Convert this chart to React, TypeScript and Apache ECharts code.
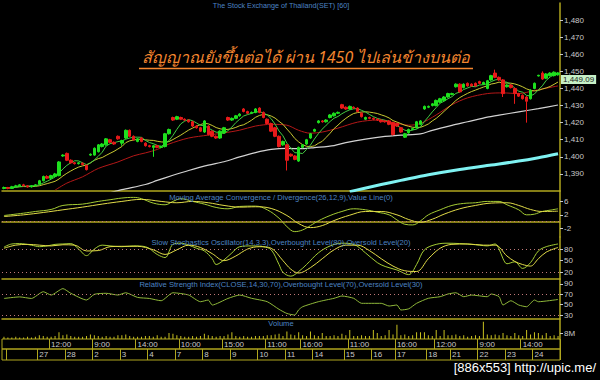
import React, { useEffect, useRef } from 'react';
import * as echarts from 'echarts';

// ---- time axis ----
const days = ['', '27', '28', '2', '3', '4', '7', '8', '9', '10', '11', '14', '15', '16', '17', '18', '21', '22', '23', '24'];
const dayStart = [1, 9, 16, 23, 30, 37, 44, 51, 58, 65, 72, 79, 87, 94, 100, 108, 114, 121, 128, 135];
const hourLabels = ['12:00', '9:00', '14:00', '10:00', '15:00', '11:00', '16:00', '11:00', '16:00', '12:00', '9:00', '14:00'];
const hourIdx = [12, 23, 34, 45, 56, 67, 76, 88, 100, 110, 121, 132];

// ---- hourly candles [open, close, low, high] ----
const candles: number[][] = [
  [1381.5, 1382, 1381, 1382.6], [1382, 1381.5, 1381, 1382.4], [1381.5, 1382.5, 1381.2, 1383], [1382.5, 1383, 1382.2, 1383.6],
  [1383, 1383.6, 1382.6, 1384], [1383.6, 1383, 1382.6, 1384.2], [1383, 1382.4, 1382, 1383.4], [1382.4, 1383, 1382, 1383.5],
  [1383, 1383.6, 1382.7, 1384], [1384, 1386, 1383.6, 1386.5], [1386, 1388.5, 1385.6, 1389], [1388.5, 1387.5, 1387, 1389.2],
  [1387.5, 1389, 1387, 1389.5], [1388.5, 1390, 1388, 1390.6], [1389, 1397, 1388.6, 1397.5], [1400.5, 1401, 1400, 1401.5],
  [1402, 1398, 1397.5, 1402.5], [1398, 1396.5, 1396, 1398.5], [1396.5, 1396, 1395.5, 1397], [1396, 1396.5, 1395.5, 1397],
  [1396.2, 1395.5, 1395, 1396.8], [1395, 1392.5, 1392, 1395.5], [1401, 1401.5, 1400.5, 1402], [1401, 1405, 1400.6, 1405.5],
  [1403, 1407, 1402.5, 1407.5], [1406, 1407.5, 1405.5, 1408], [1407, 1410.5, 1406.5, 1411], [1410, 1408.5, 1408, 1410.5],
  [1408.5, 1407.5, 1407, 1409], [1412, 1410.5, 1410, 1412.5], [1408, 1409.5, 1406.5, 1410], [1411, 1415.5, 1410.5, 1416],
  [1415.5, 1412, 1411.5, 1416], [1412, 1410, 1409.5, 1412.5], [1409, 1410.5, 1408.5, 1411], [1411, 1409, 1408.5, 1411.5],
  [1408, 1406.5, 1406, 1408.5], [1406.5, 1406, 1405.5, 1407], [1405.5, 1406.5, 1400, 1407], [1406.5, 1405.5, 1405, 1407],
  [1405.5, 1406, 1405, 1406.5], [1406, 1413.5, 1405.5, 1414], [1413.5, 1416, 1413, 1416.5], [1423, 1421.5, 1421, 1423.5],
  [1422, 1423.5, 1421.5, 1424], [1423, 1422, 1421.5, 1423.5], [1422, 1421.5, 1421, 1422.5], [1421.5, 1420.5, 1420, 1422],
  [1420.5, 1418, 1417.5, 1421], [1418, 1417, 1416.5, 1418.5], [1417, 1415, 1414.5, 1417.5], [1414.5, 1421, 1414, 1421.5],
  [1418, 1413, 1412.5, 1418.5], [1415, 1412, 1411.5, 1415.5], [1412, 1411, 1410.5, 1412.5], [1411, 1415, 1410.5, 1415.5],
  [1414, 1417, 1413.5, 1417.5], [1423, 1421.5, 1421, 1423.5], [1421.5, 1422.5, 1421, 1423], [1422.5, 1424, 1422, 1424.5],
  [1424, 1425, 1423.5, 1425.5], [1428, 1426.5, 1426, 1428.5], [1426.5, 1425.5, 1425, 1427], [1425.5, 1426, 1425, 1426.5],
  [1426, 1428, 1425.5, 1428.5], [1428.5, 1426, 1425.5, 1429], [1426, 1423, 1422.5, 1426.5], [1422, 1419.5, 1419, 1422.5],
  [1419.5, 1415, 1414.5, 1420], [1417, 1412, 1411.5, 1417.5], [1412, 1406, 1405.5, 1412.5], [1407, 1409, 1406.5, 1409.5],
  [1407, 1398, 1392, 1407.5], [1401.5, 1400.5, 1400, 1402], [1400.5, 1398.5, 1398, 1401], [1397.5, 1405.5, 1397, 1406],
  [1405.5, 1407, 1405, 1407.5], [1407.5, 1410, 1407, 1410.5], [1411, 1413.5, 1410.5, 1414], [1415, 1416, 1414.5, 1416.5],
  [1420, 1421, 1419.5, 1421.5], [1421, 1420.5, 1420, 1421.5], [1420.5, 1421.5, 1420, 1422], [1423, 1424.5, 1422.5, 1425],
  [1424, 1425.5, 1423.5, 1426], [1425.5, 1426, 1425, 1426.5], [1430.5, 1428.5, 1428, 1431], [1429, 1428, 1427.5, 1429.5],
  [1428, 1429.5, 1427.5, 1430], [1429, 1428.5, 1428, 1429.5], [1428.5, 1426.5, 1426, 1429], [1425.5, 1423.5, 1423, 1426],
  [1422, 1423, 1421.5, 1423.5], [1423, 1422.5, 1422, 1423.5], [1422.5, 1422, 1421.5, 1423], [1422, 1421.5, 1421, 1422.5],
  [1421.5, 1420.5, 1420, 1422], [1421, 1420.5, 1420, 1421.5], [1421, 1419, 1418.5, 1421.5], [1420, 1413, 1412.5, 1420.5],
  [1419.5, 1418, 1417.5, 1420], [1417, 1414.5, 1414, 1417.5], [1411.5, 1413.5, 1411, 1414], [1414, 1416, 1413.5, 1416.5],
  [1416, 1416.5, 1415.5, 1417], [1417, 1420.5, 1416.5, 1421], [1419, 1421, 1418.5, 1421.5], [1428, 1429.5, 1427.5, 1430],
  [1429, 1429.5, 1428.5, 1430], [1430, 1431, 1429.5, 1431.5], [1430, 1433, 1429.5, 1433.5], [1432, 1434, 1431.5, 1434.5],
  [1433, 1435, 1432.5, 1435.5], [1435, 1437, 1434.5, 1437.5], [1436.5, 1437, 1436, 1437.5], [1441, 1442.5, 1440.5, 1443],
  [1442.5, 1438, 1437.5, 1443], [1440.5, 1442.5, 1440, 1443], [1443, 1441.5, 1441, 1443.5], [1442.5, 1441.5, 1441, 1443],
  [1443, 1441.5, 1441, 1443.5], [1444, 1443, 1442.5, 1444.5], [1442.5, 1443.5, 1442, 1444], [1440, 1444.5, 1439.5, 1445],
  [1445, 1447.5, 1444.5, 1448], [1449, 1446.5, 1446, 1451], [1446.5, 1445, 1444.5, 1447], [1445, 1437, 1435, 1445.5],
  [1441, 1442, 1440.5, 1442.5], [1442, 1440.5, 1440, 1442.5], [1440, 1437, 1431, 1440.5], [1437, 1435.5, 1435, 1437.5],
  [1436, 1434, 1433.5, 1436.5], [1435, 1432.5, 1420, 1435.5], [1434, 1439, 1433.5, 1439.5], [1440, 1443, 1439.5, 1443.5],
  [1447.3, 1447.7, 1447, 1448], [1449, 1445.5, 1445, 1450], [1446, 1448.5, 1445.5, 1449], [1447.5, 1449, 1447, 1449.5],
  [1447.5, 1449.5, 1447, 1450], [1448, 1449.09, 1447.5, 1449.6],
];

// ---- volume (millions) ----
const volumeM = [
  3, 2, 2, 3, 2, 2, 3, 2, 3,
  5, 4, 3, 3, 4, 9, 5,
  6, 4, 3, 3, 3, 4, 6,
  5, 4, 3, 4, 3, 3, 5,
  5, 6, 4, 3, 3, 3, 4,
  4, 3, 5, 3, 3, 8, 7,
  5, 4, 3, 3, 4, 3, 4,
  7, 5, 4, 3, 4, 4, 6,
  9, 4, 3, 4, 3, 3, 4,
  4, 4, 5, 5, 6, 7, 4,
  10, 6, 5, 9, 5, 4, 10,
  5, 4, 8, 4, 4, 5, 4,
  7, 5, 12, 4, 4, 5, 4,
  4, 12, 8, 4, 5, 12, 6,
  19, 5, 6, 4, 5, 9, 9,
  9, 5, 4, 12, 4, 12, 5,
  5, 6, 4, 5, 3, 4, 5,
  4, 23, 6, 5, 6, 5, 8,
  5, 4, 8, 5, 4, 12, 6,
  9, 8, 5, 8, 4, 5, 4,
];

// ---- long moving averages [barIndex, value] ----
const redMA = [[13, 1380.5], [16, 1384.6], [20, 1388.3], [24, 1393.2], [29, 1397], [33, 1400.6], [36, 1402.3], [39, 1404.3], [42, 1407.5], [47, 1411], [52, 1412.7], [56, 1414], [60, 1415.6], [64, 1418], [68, 1419], [72, 1418.5], [75, 1415.5], [78, 1413.8], [81, 1414.5], [85, 1416.8], [90, 1420.3], [95, 1421.5], [99, 1420], [103, 1418.5], [106, 1419.5], [110, 1424.5], [114, 1430.5], [118, 1434.5], [123, 1437], [127, 1437.4], [131, 1437], [135, 1438.8], [141, 1441.5]];
const whiteMA = [[27, 1379], [30, 1380.8], [36, 1383.8], [39, 1386.2], [43, 1389.2], [47, 1392], [52, 1395.1], [56, 1397.1], [60, 1400], [64, 1402.5], [68, 1404.3], [72, 1404.9], [76, 1404.8], [79, 1405.4], [84, 1406.6], [87, 1408.3], [92, 1410.4], [96, 1411.7], [101, 1412.7], [106, 1413.4], [109, 1415.5], [114, 1418.4], [118, 1420.5], [123, 1423.2], [126, 1424.4], [131, 1426.3], [136, 1428.2], [141, 1430.3]];
const cyanMA = [[88, 1379.6], [91, 1381.2], [96, 1383.8], [101, 1386.2], [108, 1389.5], [116, 1392.6], [124, 1395.2], [131, 1397.5], [136, 1399.5], [141, 1401.8]];

// ---- indicators [barIndex, value] ----
const macdLine = [[0, 1.8], [5, 2.5], [8, 3.0], [12, 3.6], [15, 4.8], [20, 5.2], [24, 6.0], [27, 6.5], [30, 7.0], [33, 7.2], [35, 6.8], [38, 5.5], [41, 5.0], [43, 6.0], [45, 6.8], [48, 6.0], [51, 5.2], [54, 4.2], [57, 3.8], [60, 4.5], [64, 4.6], [67, 3.5], [70, 1.0], [72, -1.5], [74, -3.0], [76, -2.5], [78, -1.2], [80, 0.2], [83, 1.8], [86, 3.0], [89, 3.8], [92, 3.5], [95, 2.8], [98, 2.0], [100, 0.5], [102, -0.8], [104, -1.0], [106, 0.2], [108, 2.0], [111, 3.5], [114, 4.8], [117, 5.4], [120, 5.6], [123, 6.0], [126, 6.0], [128, 5.0], [131, 3.5], [133, 2.0], [135, 2.2], [137, 3.0], [139, 3.4], [141, 3.8]];
const signalLine = [[0, 1.5], [5, 2.0], [10, 2.7], [15, 3.5], [20, 4.3], [25, 5.2], [30, 6.0], [35, 6.6], [40, 6.0], [44, 5.6], [48, 6.0], [52, 5.6], [56, 4.8], [60, 4.3], [64, 4.4], [68, 3.9], [72, 1.8], [75, -0.6], [78, -1.8], [81, -1.2], [84, 0.3], [88, 1.9], [92, 3.0], [96, 3.0], [100, 2.0], [103, 0.6], [106, -0.2], [109, 0.7], [112, 2.2], [116, 3.8], [120, 4.8], [124, 5.5], [128, 5.6], [131, 4.8], [134, 3.6], [137, 3.0], [141, 3.1]];
const stochK = [[0, 85], [2, 93], [4, 94], [7, 90], [9, 86], [11, 88], [13, 92], [15, 93], [17, 94], [19, 80], [21, 63], [23, 80], [25, 90], [27, 88], [30, 86], [33, 88], [36, 86], [39, 66], [41, 58], [43, 92], [45, 95], [47, 90], [49, 82], [51, 75], [53, 55], [54, 40], [56, 52], [58, 70], [60, 86], [63, 88], [66, 86], [68, 78], [70, 40], [71, 20], [73, 10], [75, 22], [77, 40], [80, 70], [83, 88], [86, 95], [89, 92], [92, 70], [95, 45], [97, 35], [100, 26], [103, 14], [105, 40], [107, 78], [110, 92], [113, 95], [116, 94], [119, 92], [121, 90], [123, 88], [125, 93], [126, 80], [127, 55], [128, 42], [130, 47], [132, 30], [134, 45], [136, 75], [138, 86], [141, 93]];
const stochD = [[0, 82], [3, 90], [6, 92], [9, 90], [12, 88], [15, 91], [18, 90], [21, 75], [24, 76], [27, 86], [30, 87], [34, 87], [38, 78], [41, 66], [44, 78], [47, 90], [50, 84], [53, 68], [56, 50], [59, 62], [62, 80], [65, 86], [68, 82], [71, 50], [73, 28], [75, 18], [78, 32], [81, 55], [84, 78], [87, 90], [90, 90], [93, 76], [96, 55], [99, 36], [102, 24], [105, 22], [108, 55], [111, 82], [114, 92], [118, 93], [122, 90], [125, 90], [128, 62], [130, 48], [132, 40], [134, 36], [136, 55], [138, 72], [141, 84]];
const rsiLine = [[0, 62], [4, 65], [7, 62], [10, 75], [12, 68.6], [15, 81], [17, 72], [21, 59], [23, 70], [26, 72], [29, 68.6], [31, 73], [34, 64], [37, 62], [40, 57.6], [43, 73], [47, 68.6], [50, 55.7], [52, 59], [53, 49.3], [57, 62], [60, 68.6], [63, 62.3], [67, 55.7], [70, 41], [72, 33], [74, 30], [75, 40], [76, 46], [80, 55.7], [84, 62.3], [86, 66.7], [89, 62.3], [91, 52.6], [96, 52.6], [98, 47.4], [100, 49.3], [101, 39.7], [103, 42], [105, 52.6], [108, 62.3], [111, 65.4], [113, 70.6], [115, 73], [117, 65.4], [119, 68.6], [123, 65.4], [124, 70.6], [126, 65.4], [127, 49.3], [129, 57.6], [131, 49.3], [133, 46], [135, 59], [136, 55.7], [141, 60]];

// ---- texts ----
const mainTitle = 'The Stock Exchange of Thailand(SET) [60]';
const panelTitles = [
  'Moving Average Convergence / Divergence(26,12,9),Value Line(0)',
  'Slow Stochastics Oscillator(14,3,3),Overbought Level(80),Oversold Level(20)',
  'Relative Strength Index(CLOSE,14,30,70),Overbought Level(70),Oversold Level(30)',
  'Volume',
];
const headline = 'สัญญาณยังขึ้นต่อได้ ผ่าน 1450 ไปเล่นข้างบนต่อ';
const watermark = '[886x553] http://upic.me/';

const categories = candles.map((_, i) => {
  let d = 0;
  for (let k = 0; k < dayStart.length; k++) if (i >= dayStart[k]) d = k;
  return `${days[d]}#${i - dayStart[d]}`;
});

function movingAvg(n: number) {
  return candles.map((_, i) => {
    const s = Math.max(0, i - n + 1);
    let sum = 0;
    for (let j = s; j <= i; j++) sum += candles[j][1];
    return +(sum / (i - s + 1)).toFixed(2);
  });
}

const SEP = '#b0a61e';
const LBL = '#c8c8c8';
const TITLE_C = '#4d84c4';
const FONT = '"Liberation Sans", Arial, sans-serif';

export default function App() {
  const ref = useRef<HTMLDivElement>(null);
  useEffect(() => {
    if (!ref.current) return;
    const chart = echarts.init(ref.current, undefined, { renderer: 'svg' });
    const lastClose = candles[candles.length - 1][1];
    const fmt = (v: number, d = 0) => v.toLocaleString('en-US', { minimumFractionDigits: d, maximumFractionDigits: d });

    const gridDefs = [
      { top: 3, height: 188 },
      { top: 191, height: 46 },
      { top: 237, height: 42 },
      { top: 279, height: 40 },
      { top: 319, height: 20 },
      { top: 339, height: 10, show: true, borderColor: SEP, borderWidth: 1 },
      { top: 349, height: 11, show: true, borderColor: SEP, borderWidth: 1 },
    ];
    const grids = gridDefs.map((g) => ({ left: 2, right: 40, outerBoundsMode: 'none', ...g }));

    const isHour = (i: number) => hourIdx.indexOf(i) >= 0;
    const isDay = (i: number) => dayStart.indexOf(i) >= 0;

    const xAxes: any[] = [0, 1, 2, 3, 4].map((gi) => ({
      type: 'category', gridIndex: gi, data: categories, boundaryGap: true,
      axisLabel: { show: false }, axisTick: { show: false },
      axisLine: { show: gi <= 3, lineStyle: { color: SEP, width: 1.5 } },
      splitLine: { show: false },
    }));
    xAxes.push({
      type: 'category', gridIndex: 5, data: categories, boundaryGap: true, position: 'top',
      axisLine: { show: false }, axisTick: { show: false },
      axisLabel: {
        show: true, inside: true, margin: 1, align: 'left', verticalAlign: 'top',
        interval: (i: number) => isHour(i), formatter: (_v: string, i: number) => hourLabels[hourIdx.indexOf(i)] || '',
        color: LBL, fontSize: 8, fontFamily: FONT,
      },
      splitLine: { show: true, interval: (i: number) => isHour(i), lineStyle: { color: SEP, width: 1 } },
    });
    xAxes.push({
      type: 'category', gridIndex: 6, data: categories, boundaryGap: true, position: 'top',
      axisLine: { show: false }, axisTick: { show: false },
      axisLabel: {
        show: true, inside: true, margin: 1.5, align: 'left', verticalAlign: 'top',
        interval: (i: number) => isDay(i), formatter: (_v: string, i: number) => days[dayStart.indexOf(i)] || '',
        color: LBL, fontSize: 8, fontFamily: FONT,
      },
      splitLine: { show: true, interval: (i: number) => isDay(i), lineStyle: { color: SEP, width: 1 } },
    });

    const yBase = (gi: number, extra: any) => ({
      type: 'value', gridIndex: gi, position: 'right', scale: true,
      axisLine: { show: true, lineStyle: { color: SEP, width: 1.5 } },
      splitLine: { show: false },
      ...extra,
      axisLabel: { color: LBL, fontSize: 8, fontFamily: FONT, margin: 4, ...(extra.axisLabel || {}) },
      axisTick: { show: true, length: 3, lineStyle: { color: LBL }, ...(extra.axisTick || {}) },
    });

    const yAxes: any[] = [
      yBase(0, { min: 1380, max: 1490, interval: 10, axisLabel: { showMinLabel: false, showMaxLabel: false, formatter: (v: number) => fmt(v) } }),
      yBase(1, { min: -4.6, max: 9.1, axisLabel: { customValues: [-2, 2, 6] }, axisTick: { customValues: [-2, 2, 6] } }),
      yBase(2, { min: 2.7, max: 111, axisLabel: { customValues: [20, 50, 80] }, axisTick: { customValues: [20, 50, 80] } }),
      yBase(3, { min: 22.3, max: 99.6, axisLabel: { customValues: [30, 50, 70, 90] }, axisTick: { customValues: [30, 50, 70, 90] } }),
      yBase(4, { min: 0, max: 26.7, axisLabel: { customValues: [8], formatter: (v: number) => `${v}M` }, axisTick: { customValues: [8] } }),
      { type: 'value', gridIndex: 5, show: false },
      { type: 'value', gridIndex: 6, show: false },
    ];

    const dotted = (vals: number[]) => ({
      silent: true, symbol: 'none', label: { show: false },
      lineStyle: { type: [1, 3], color: '#c07878', width: 1 },
      data: vals.map((v) => ({ yAxis: v })),
    });
    const line = (name: string, data: any, xi: number, color: string, width = 1, smooth: any = 0.3, extra: any = {}) => ({
      name, type: 'line', data, xAxisIndex: xi, yAxisIndex: xi, symbol: 'none', smooth,
      lineStyle: { color, width }, z: 2, silent: true, ...extra,
    });

    const titleStyle = { color: TITLE_C, fontSize: 7.6, fontWeight: 'normal', fontFamily: FONT };

    chart.setOption({
      animation: false,
      backgroundColor: '#000',
      textStyle: { fontFamily: FONT },
      title: [
        { text: mainTitle, left: 281, top: 2, textAlign: 'center', padding: 0, textStyle: { ...titleStyle, fontSize: 7.2 } },
        ...panelTitles.map((t, k) => ({
          text: t, left: 281, top: [193, 238, 280, 319][k], textAlign: 'center', padding: 0,
          textStyle: titleStyle,
        })),
      ],
      grid: grids,
      xAxis: xAxes,
      yAxis: yAxes,
      series: [
        line('cyan', cyanMA, 0, '#7ff2f2', 3, 0.3),
        line('white', whiteMA, 0, '#d2d2d2', 1.2, 0.3),
        line('red', redMA, 0, '#b41818', 1, 0.3),
        line('ma10', movingAvg(10), 0, '#c8c832', 1, false),
        line('ma5', movingAvg(5), 0, '#44cc44', 1, false),
        {
          name: 'SET', type: 'candlestick', data: candles, xAxisIndex: 0, yAxisIndex: 0, barWidth: 3, z: 3, silent: true,
          itemStyle: { color: '#1ee01e', color0: '#e81a1a', borderColor: '#1ee01e', borderColor0: '#e81a1a', borderWidth: 1 },
          markLine: {
            silent: true, symbol: 'none', data: [{ yAxis: lastClose }],
            lineStyle: { color: 'rgba(0,0,0,0)', width: 0 },
            label: {
              show: true, position: 'end', distance: 1, formatter: fmt(lastClose, 2),
              backgroundColor: '#c6f0c6', color: '#222', fontSize: 8, fontFamily: FONT, padding: [1, 2, 0, 2],
              verticalAlign: 'top', offset: [0, 2],
            },
          },
        },
        line('macd', macdLine, 1, '#a4cc34', 1, 0.4, { markLine: dotted([0]) }),
        line('signal', signalLine, 1, '#e2dc48', 1, 0.4),
        line('stochK', stochK, 2, '#a4cc34', 1, 0.35, { markLine: dotted([80, 20]) }),
        line('stochD', stochD, 2, '#e2dc48', 1, 0.35),
        line('rsi', rsiLine, 3, '#8fb83a', 1, 0.2, { markLine: dotted([70, 30]) }),
        {
          name: 'volume', type: 'bar', data: volumeM, xAxisIndex: 4, yAxisIndex: 4, barWidth: 1, silent: true,
          itemStyle: { color: '#c8c020' },
        },
      ],
      graphic: [
        {
          type: 'text', x: 306, y: 57, silent: true,
          style: { text: headline, align: 'center', verticalAlign: 'middle', fill: '#f5862f', fontSize: 16, fontStyle: 'italic', fontFamily: '"Noto Sans", "DejaVu Sans", sans-serif' },
        },
        { type: 'line', silent: true, shape: { x1: 139, y1: 68.5, x2: 473, y2: 68.5 }, style: { stroke: '#f5862f', lineWidth: 1.5 } },
        {
          type: 'text', x: 596, y: 367, silent: true,
          style: { text: watermark, align: 'right', verticalAlign: 'middle', fill: '#ffffff', fontSize: 13, fontFamily: FONT },
        },
      ],
    });
    return () => chart.dispose();
  }, []);
  return <div ref={ref} style={{ position: 'fixed', left: 0, top: 0, width: 600, height: 380, background: '#000' }} />;
}
